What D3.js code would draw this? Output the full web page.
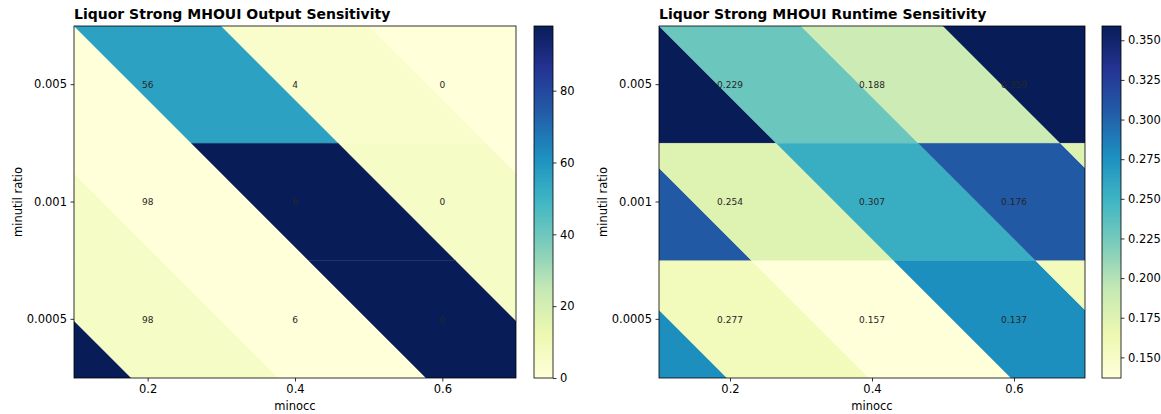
<!DOCTYPE html>
<html>
<head>
<meta charset="utf-8">
<script src="https://cdn.jsdelivr.net/npm/d3@7"></script>
<style>
  body { margin: 0; background: white; }
  text { font-family: "DejaVu Sans", sans-serif; fill: #000; }
  .domain, .tick line { stroke: #000; stroke-width: 0.8; }
</style>
</head>
<body>
<div id="chart"></div>
<script>
// data
var minocc = [0.2, 0.4, 0.6];
var minutilRatio = ["0.005", "0.001", "0.0005"];
var outputValues = [
  [56, 4, 0],
  [98, 6, 0],
  [98, 6, 0]
];
var runtimeValues = [
  [0.229, 0.188, 0.359],
  [0.254, 0.307, 0.176],
  [0.277, 0.157, 0.137]
];
var outputTicks = [0, 20, 40, 60, 80];
var runtimeTicks = [0.150, 0.175, 0.200, 0.225, 0.250, 0.275, 0.300, 0.325, 0.350];

// matplotlib YlGnBu
var ylgnbu = ["#ffffd9", "#edf8b1", "#c7e9b4", "#7fcdbb", "#41b6c4", "#1d91c0", "#225ea8", "#253494", "#081d58"];

var svg = d3.select("#chart")
  .append("svg")
  .attr("width", 1161)
  .attr("height", 414)
  .style("background", "white");

var defs = svg.append("defs");

function create_panel(id, left, right, cbLeft, title, values, ticks, tickFmt, annFmt) {
  var top = 26, bottom = 378;
  var flat = values.flat();
  var vmin = d3.min(flat), vmax = d3.max(flat);

  var color = d3.scaleLinear()
    .domain(ylgnbu.map(function (d, i) { return vmin + (vmax - vmin) * i / (ylgnbu.length - 1); }))
    .range(ylgnbu);

  var step = minocc[1] - minocc[0];
  var xscale = d3.scaleLinear()
    .domain([minocc[0] - step / 2, minocc[minocc.length - 1] + step / 2])
    .range([left, right]);

  var yscale = d3.scaleBand()
    .domain(minutilRatio)
    .range([top, bottom]);

  defs.append("clipPath").attr("id", "clip-" + id)
    .append("rect")
    .attr("x", left).attr("y", top)
    .attr("width", right - left).attr("height", bottom - top);

  var g = svg.append("g").attr("clip-path", "url(#clip-" + id + ")");

  // cells are skewed 45deg and repeat along each row
  var n = minocc.length;
  var cells = [];
  minutilRatio.forEach(function (r, ri) {
    for (var k = -5; k < n + 1; k++) {
      var c = ((k % n) + n) % n;
      cells.push({ row: r, k: k, value: values[ri][c] });
    }
  });

  g.selectAll("path.cell")
    .data(cells)
    .enter().append("path")
    .attr("class", "cell")
    .attr("fill", function (d) { return color(d.value); })
    .attr("stroke", function (d) { return color(d.value); })
    .attr("stroke-width", 0.3)
    .attr("d", function (d) {
      var x0 = minocc[0] - step / 2 + d.k * step;
      var y0 = yscale(d.row), y1 = y0 + yscale.bandwidth();
      var s0 = y0 - top, s1 = y1 - top;
      return "M" + (xscale(x0) + s0) + "," + y0 +
        "L" + (xscale(x0 + step) + s0) + "," + y0 +
        "L" + (xscale(x0 + step) + s1) + "," + y1 +
        "L" + (xscale(x0) + s1) + "," + y1 + "Z";
    });

  // annotations
  var ann = [];
  minutilRatio.forEach(function (r, ri) {
    minocc.forEach(function (m, ci) { ann.push({ row: r, x: m, value: values[ri][ci] }); });
  });
  svg.append("g").selectAll("text")
    .data(ann)
    .enter().append("text")
    .attr("x", function (d) { return xscale(d.x); })
    .attr("y", function (d) { return yscale(d.row) + yscale.bandwidth() / 2 + 3.2; })
    .attr("text-anchor", "middle")
    .style("font-size", "9px")
    .style("fill", "#262626")
    .text(function (d) { return annFmt(d.value); });

  // axes
  var xAxis = svg.append("g")
    .attr("transform", "translate(0," + bottom + ")")
    .call(d3.axisBottom(xscale).tickValues(minocc).tickSize(3.5).tickPadding(3.5).tickFormat(d3.format(".1f")));
  xAxis.select(".domain").remove();
  xAxis.selectAll("text").style("font-size", "11.5px");

  var yAxis = svg.append("g")
    .attr("transform", "translate(" + left + ",0)")
    .call(d3.axisLeft(yscale).tickSize(3.5).tickPadding(3.5));
  yAxis.select(".domain").remove();
  yAxis.selectAll("text").style("font-size", "11.5px");

  svg.append("rect")
    .attr("x", left).attr("y", top)
    .attr("width", right - left).attr("height", bottom - top)
    .attr("fill", "none").attr("stroke", "#000").attr("stroke-width", 0.8);

  svg.append("text")
    .attr("x", (left + right) / 2)
    .attr("y", 410)
    .attr("text-anchor", "middle")
    .style("font-size", "11.5px")
    .text("minocc");

  svg.append("text")
    .attr("transform", "translate(" + (left - 52) + "," + ((top + bottom) / 2) + ")rotate(-90)")
    .attr("text-anchor", "middle")
    .style("font-size", "11.5px")
    .text("minutil ratio");

  svg.append("text")
    .attr("x", left)
    .attr("y", 19)
    .style("font-size", "14px")
    .style("font-weight", "bold")
    .text(title);

  // colorbar
  var cbWidth = 19;
  var grad = defs.append("linearGradient")
    .attr("id", "grad-" + id)
    .attr("x1", 0).attr("y1", 1).attr("x2", 0).attr("y2", 0);
  grad.selectAll("stop")
    .data(ylgnbu)
    .enter().append("stop")
    .attr("offset", function (d, i) { return i / (ylgnbu.length - 1); })
    .attr("stop-color", function (d) { return d; });

  svg.append("rect")
    .attr("x", cbLeft).attr("y", top)
    .attr("width", cbWidth).attr("height", bottom - top)
    .attr("fill", "url(#grad-" + id + ")")
    .attr("stroke", "#000").attr("stroke-width", 0.8);

  var cscale = d3.scaleLinear().domain([vmin, vmax]).range([bottom, top]);
  var cAxis = svg.append("g")
    .attr("transform", "translate(" + (cbLeft + cbWidth) + ",0)")
    .call(d3.axisRight(cscale).tickValues(ticks).tickSize(3.5).tickPadding(3.5).tickFormat(tickFmt));
  cAxis.select(".domain").remove();
  cAxis.selectAll("text").style("font-size", "11.5px");
}

create_panel("out", 74, 516, 534, "Liquor Strong MHOUI Output Sensitivity",
  outputValues, outputTicks, d3.format("d"), d3.format("d"));
create_panel("run", 659, 1085, 1102, "Liquor Strong MHOUI Runtime Sensitivity",
  runtimeValues, runtimeTicks, d3.format(".3f"), d3.format(".3f"));
</script>
</body>
</html>
